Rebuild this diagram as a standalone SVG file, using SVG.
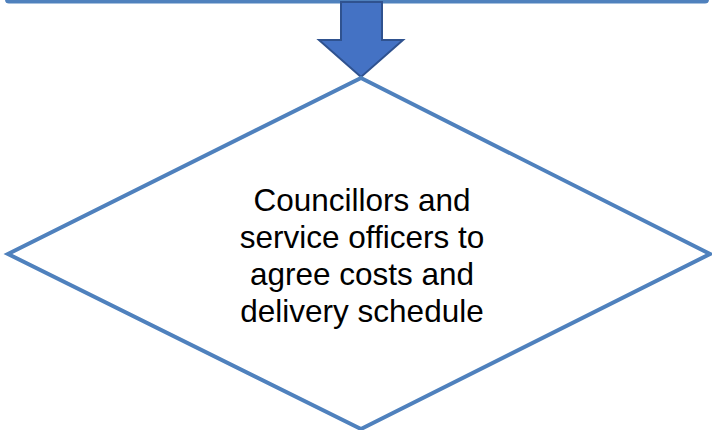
<svg xmlns="http://www.w3.org/2000/svg" width="712" height="430" viewBox="0 0 712 430">
<style>
.shape{fill:#ffffff;stroke:#4F81BD;stroke-width:4;stroke-linejoin:miter}
.arrow{fill:#4472C4;stroke:#2F528F;stroke-width:2;stroke-linejoin:miter}
.label{font-family:"Liberation Sans",Arial,sans-serif;font-size:31.5px;fill:#000000;text-anchor:middle}
</style>
<rect width="712" height="430" fill="#ffffff"/>
<g id="top-box">
<rect class="shape" x="7" y="-100" width="700" height="101.5" rx="2"/>
</g>
<g id="connectors">
<path class="arrow" d="M341,2 L382,2 L382,40 L403,40 L361,77 L319,40 L341,40 Z"/>
</g>
<g id="decision">
<polygon class="shape" points="361,78 710,254 361,429 8,254"/>
<text class="label" x="362" y="211">Councillors and</text>
<text class="label" x="362" y="248">service officers to</text>
<text class="label" x="362" y="285">agree costs and</text>
<text class="label" x="362" y="322">delivery schedule</text>
</g>
</svg>
